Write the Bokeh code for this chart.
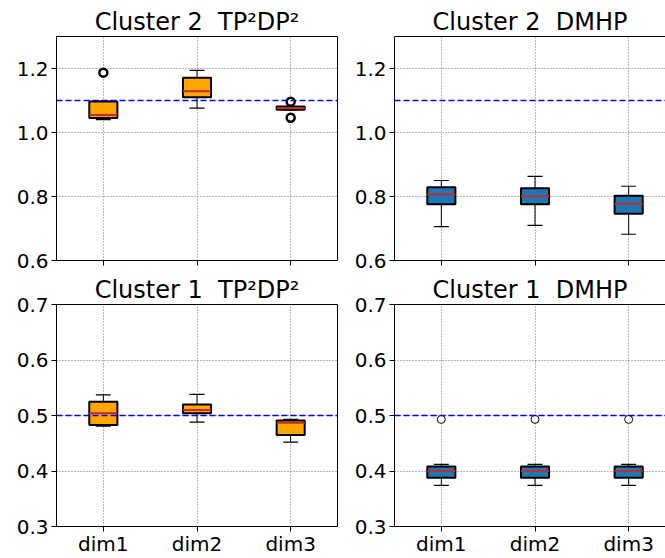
from bokeh.plotting import figure
from bokeh.layouts import column, row
from bokeh.models import FixedTicker, Span, LinearAxis, Range1d, ColumnDataSource, PrintfTickFormatter
from bokeh.embed import file_html
from bokeh.resources import INLINE

dims = ["dim1", "dim2", "dim3"]
positions = [1, 2, 3]

# Cluster 2, TP^2DP^2
c2_tp_low = [1.040, 1.076, 1.071]
c2_tp_q1 = [1.045, 1.110, 1.071]
c2_tp_med = [1.055, 1.129, 1.076]
c2_tp_q3 = [1.097, 1.171, 1.081]
c2_tp_high = [1.097, 1.194, 1.081]
c2_tp_out_x = [1, 3, 3]
c2_tp_out_y = [1.187, 1.096, 1.046]

# Cluster 2, DMHP
c2_dm_low = [0.706, 0.710, 0.682]
c2_dm_q1 = [0.776, 0.776, 0.746]
c2_dm_med = [0.807, 0.801, 0.777]
c2_dm_q3 = [0.829, 0.826, 0.802]
c2_dm_high = [0.850, 0.863, 0.832]
c2_dm_out_x = []
c2_dm_out_y = []

# Cluster 1, TP^2DP^2
c1_tp_low = [0.481, 0.488, 0.452]
c1_tp_q1 = [0.483, 0.504, 0.465]
c1_tp_med = [0.504, 0.510, 0.487]
c1_tp_q3 = [0.525, 0.520, 0.491]
c1_tp_high = [0.537, 0.538, 0.493]
c1_tp_out_x = []
c1_tp_out_y = []

# Cluster 1, DMHP
c1_dm_low = [0.374, 0.374, 0.374]
c1_dm_q1 = [0.388, 0.388, 0.388]
c1_dm_med = [0.400, 0.400, 0.400]
c1_dm_q3 = [0.408, 0.408, 0.408]
c1_dm_high = [0.412, 0.412, 0.412]
c1_dm_out_x = [1, 2, 3]
c1_dm_out_y = [0.493, 0.493, 0.493]

ref_top = 1.1
ref_bottom = 0.5

titles = ["Cluster 2\u00a0\u00a0TP\u00b2DP\u00b2", "Cluster 2\u00a0\u00a0DMHP",
          "Cluster 1\u00a0\u00a0TP\u00b2DP\u00b2", "Cluster 1\u00a0\u00a0DMHP"]

ORANGE = "#FFA500"
BLUE = "#1f77b4"
MEDIAN = "#c42a2a"
FONT = "DejaVu Sans"
BOX_W = 0.3
CAP_W = 0.16


def make_panel(title, low, q1, med, q3, high, out_x, out_y, fill, yr, yticks,
               ref, left, top_row, out_lw):
    if top_row:
        h, bt, bb = 272, 36, 12
    else:
        h, bt, bb = 286, 32, 29
    if left:
        w, bl, br = 340, 56, 3
        xr = Range1d(0.5, 3.5)
    else:
        w, bl, br = 325, 54, 0
        xr = Range1d(0.5, 0.5 + 271 / (281 / 3.0))
    p = figure(width=w, height=h, x_range=xr, y_range=Range1d(*yr),
               output_backend="svg", toolbar_location=None,
               min_border_left=bl, min_border_right=br,
               min_border_top=bt, min_border_bottom=bb)
    p.background_fill_color = "white"
    p.border_fill_color = "white"
    if left:
        p.outline_line_color = "black"
        p.outline_line_width = 1
    else:
        p.outline_line_color = None
        ax = LinearAxis(ticker=FixedTicker(ticks=[]), major_tick_in=0, major_tick_out=0,
                        minor_tick_in=0, minor_tick_out=0,
                        axis_line_color="black")
        p.add_layout(ax, "above")

    p.title.text = title
    p.title.text_font = FONT
    p.title.text_font_size = "24px"
    p.title.text_font_style = "normal"
    p.title.text_color = "black"
    p.title.standoff = 2
    if left:
        p.title.align = "center"
    else:
        p.title.align = "left"
        p.title.offset = 38

    xax = p.below[0]
    yax = p.left[0]
    xax.ticker = FixedTicker(ticks=positions)
    if top_row:
        xax.major_label_overrides = {pos: "" for pos in positions}
    else:
        xax.major_label_overrides = {pos: d for pos, d in zip(positions, dims)}
    yax.ticker = FixedTicker(ticks=yticks)
    yax.formatter = PrintfTickFormatter(format="%.1f")
    for a in [xax, yax]:
        a.axis_line_color = "black"
        a.major_tick_line_color = "black"
        a.major_tick_out = 5
        a.major_tick_in = 0
        a.minor_tick_out = 0
        a.minor_tick_in = 0
        a.major_label_text_font = FONT
        a.major_label_text_font_size = "20px"
        a.major_label_text_color = "black"
        a.major_label_standoff = 3
    xax.major_label_standoff = 0

    for g in [p.xgrid[0], p.ygrid[0]]:
        g.grid_line_color = "#707070"
        g.grid_line_dash = "1 2"
        g.grid_line_width = 1

    src = ColumnDataSource(dict(
        x=positions, low=low, q1=q1, med=med, q3=q3, high=high,
        xl=[x - BOX_W / 2 for x in positions], xr=[x + BOX_W / 2 for x in positions],
        cl=[x - CAP_W / 2 for x in positions], cr=[x + CAP_W / 2 for x in positions]))

    # whiskers
    p.segment(x0="x", y0="q3", x1="x", y1="high", source=src, line_color="black", line_width=1)
    p.segment(x0="x", y0="q1", x1="x", y1="low", source=src, line_color="black", line_width=1)
    p.segment(x0="cl", y0="high", x1="cr", y1="high", source=src, line_color="black", line_width=1.2)
    p.segment(x0="cl", y0="low", x1="cr", y1="low", source=src, line_color="black", line_width=1.2)
    # boxes
    p.vbar(x="x", width=BOX_W, bottom="q1", top="q3", source=src,
           fill_color=fill, line_color="black", line_width=2)
    # medians
    p.segment(x0="xl", y0="med", x1="xr", y1="med", source=src,
              line_color=MEDIAN, line_width=2)
    # outliers
    if out_x:
        p.scatter(x=out_x, y=out_y, marker="circle", size=8,
                  fill_color="white", line_color="black", line_width=out_lw)

    p.add_layout(Span(location=ref, dimension="width", line_color="blue",
                      line_dash="6 3", line_width=1.5))
    return p


p1 = make_panel(titles[0], c2_tp_low, c2_tp_q1, c2_tp_med, c2_tp_q3, c2_tp_high,
                c2_tp_out_x, c2_tp_out_y, ORANGE, (0.6, 1.3), [0.6, 0.8, 1.0, 1.2],
                ref_top, True, True, 2.5)
p2 = make_panel(titles[1], c2_dm_low, c2_dm_q1, c2_dm_med, c2_dm_q3, c2_dm_high,
                c2_dm_out_x, c2_dm_out_y, BLUE, (0.6, 1.3), [0.6, 0.8, 1.0, 1.2],
                ref_top, False, True, 1)
p3 = make_panel(titles[2], c1_tp_low, c1_tp_q1, c1_tp_med, c1_tp_q3, c1_tp_high,
                c1_tp_out_x, c1_tp_out_y, ORANGE, (0.3, 0.7), [0.3, 0.4, 0.5, 0.6, 0.7],
                ref_bottom, True, False, 2.5)
p4 = make_panel(titles[3], c1_dm_low, c1_dm_q1, c1_dm_med, c1_dm_q3, c1_dm_high,
                c1_dm_out_x, c1_dm_out_y, BLUE, (0.3, 0.7), [0.3, 0.4, 0.5, 0.6, 0.7],
                ref_bottom, False, False, 1)

layout = column(row(p1, p2, spacing=0), row(p3, p4, spacing=0), spacing=0)
open("out.html", "w").write(file_html(layout, INLINE))
